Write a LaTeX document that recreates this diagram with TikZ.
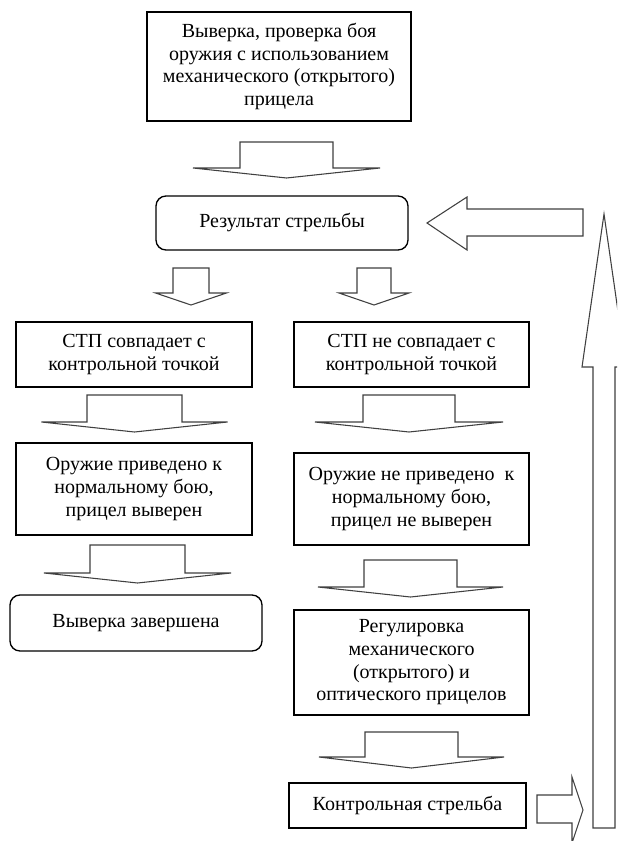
\documentclass[tikz,border=0pt]{standalone}
\usepackage{fontspec}
\setmainfont{Liberation Serif}

\tikzset{
  box/.style={draw, line width=1pt, inner sep=0pt, align=center,
    font=\fontsize{15}{17}\selectfont},
  rbox/.style={box, rounded corners=7.5pt},
  blk/.style={draw=black!75, line width=0.8pt, fill=white},
  % block arrow pointing down: stem half width, head half width, stem length, full length
  pics/downarr/.style n args={4}{code={
    \draw[blk] (-#1,0) -- (#1,0) -- (#1,#3) -- (#2,#3) -- (0,#4) -- (-#2,#3) -- (-#1,#3) -- cycle;
  }}
}

\begin{document}
\begin{tikzpicture}[x=0.75pt,y=-0.75pt]
  \clip (0,0) rectangle (617,841);
  \fill[white] (0,0) rectangle (617,841);

  % boxes
  \node[box, minimum width=198pt, minimum height=81.75pt] (aim) at (279,66.5)
    {Выверка, проверка боя\\оружия с использованием\\механического (открытого)\\прицела};
  \node[rbox, minimum width=189pt, minimum height=40.5pt] (result) at (282,223)
    {Результат стрельбы};
  \node[box, minimum width=177pt, minimum height=48.75pt] (hitok) at (134,354.5)
    {СТП совпадает с\\контрольной точкой};
  \node[box, minimum width=176.25pt, minimum height=48.75pt] (hitbad) at (411.5,354.5)
    {СТП не совпадает с\\контрольной точкой};
  \node[box, minimum width=177pt, minimum height=69pt] (normok) at (134,489)
    {Оружие приведено к\\нормальному бою,\\прицел выверен};
  \node[box, minimum width=176.25pt, minimum height=69pt] (normbad) at (411.5,499)
    {Оружие не приведено\ \ к\\нормальному бою,\\прицел не выверен};
  \node[rbox, minimum width=189pt, minimum height=42pt] (done) at (136,623)
    {Выверка завершена};
  \node[box, minimum width=176.25pt, minimum height=78.75pt] (adjust) at (411.5,662.5)
    {Регулировка\\механического\\(открытого) и\\оптического прицелов};
  \node[box, minimum width=177.75pt, minimum height=33.75pt] (control) at (407.5,805.5)
    {Контрольная стрельба};

  % block arrows down
  \pic at (286.5,142) {downarr={46.5}{93.5}{26}{36}};
  \pic at (191,268) {downarr={18}{35.5}{25}{37}};
  \pic at (374,268) {downarr={17}{35}{25}{37}};
  \pic at (134.5,395) {downarr={47.5}{93}{27}{37}};
  \pic at (409,395) {downarr={46}{94}{27}{37}};
  \pic at (137.5,545) {downarr={47.5}{93.5}{28}{38}};
  \pic at (410.5,560) {downarr={46.5}{92.5}{27}{37}};
  \pic at (411.5,732) {downarr={46.5}{92.5}{25}{36}};

  % loop back to the result
  \draw[blk] (537,795) -- (572,795) -- (572,777) -- (583,810) -- (572,843)
    -- (572,823) -- (537,823) -- cycle;
  \draw[blk] (593,828) -- (593,367) -- (582,367) -- (604,214) -- (626,367)
    -- (615,367) -- (615,828) -- cycle;
  \draw[blk] (583,209) -- (467,209) -- (467,197) -- (427,223) -- (467,250)
    -- (467,236) -- (583,236) -- cycle;
\end{tikzpicture}
\end{document}
